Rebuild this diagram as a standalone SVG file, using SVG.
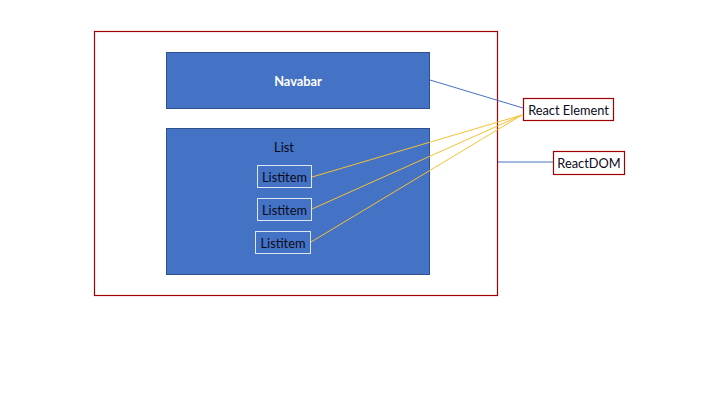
<svg xmlns="http://www.w3.org/2000/svg" width="720" height="405" viewBox="0 0 720 405">
<style>
.blue{fill:#4472C4;stroke:#2F528F;stroke-width:1}
.item{fill:none;stroke:#DDE6F5;stroke-width:1}
.red{fill:#fff;stroke:#A00000;stroke-width:1.2}
.t{font-family:Lato,"Liberation Sans",sans-serif;font-size:12.8px;text-anchor:middle;dominant-baseline:central;fill:#0A0A1A}
.w{fill:#fff;font-weight:bold}
.bl{stroke:#4472C4;stroke-width:1;fill:none}
.yl{stroke:#F5C036;stroke-width:1;fill:none}
</style>
<rect width="720" height="405" fill="#fff"/>
<g id="container"><rect x="94.5" y="31.5" width="403" height="264" fill="#fff" stroke="#A00000" stroke-width="1.2"/></g>
<g id="navbar"><rect class="blue" x="166.5" y="52.5" width="263" height="56"/><text class="t w" x="298" y="81">Navabar</text></g>
<g id="list"><rect class="blue" x="166.5" y="128.5" width="263" height="146"/><text class="t" x="284" y="147">List</text></g>
<g id="listitem1"><rect class="item" x="257.5" y="165.5" width="54" height="22"/><text class="t" x="284.5" y="177">Listitem</text></g>
<g id="listitem2"><rect class="item" x="257.5" y="198.5" width="54" height="22"/><text class="t" x="284.5" y="210">Listitem</text></g>
<g id="listitem3"><rect class="item" x="255.5" y="231.5" width="55" height="22"/><text class="t" x="283" y="243">Listitem</text></g>
<g id="react-element"><rect class="red" x="523.5" y="98.5" width="90" height="22"/><text class="t" x="568.5" y="109.5">React Element</text></g>
<g id="reactdom"><rect class="red" x="553.5" y="151.5" width="71" height="23"/><text class="t" x="589" y="163">ReactDOM</text></g>
<g id="connectors">
<line class="bl" x1="430" y1="80" x2="523" y2="108"/>
<line class="bl" x1="498" y1="162" x2="553" y2="162"/>
<line class="yl" x1="312" y1="177" x2="522" y2="115"/>
<line class="yl" x1="312" y1="209" x2="522" y2="115"/>
<line class="yl" x1="311" y1="242" x2="522" y2="115"/>
</g>
</svg>
